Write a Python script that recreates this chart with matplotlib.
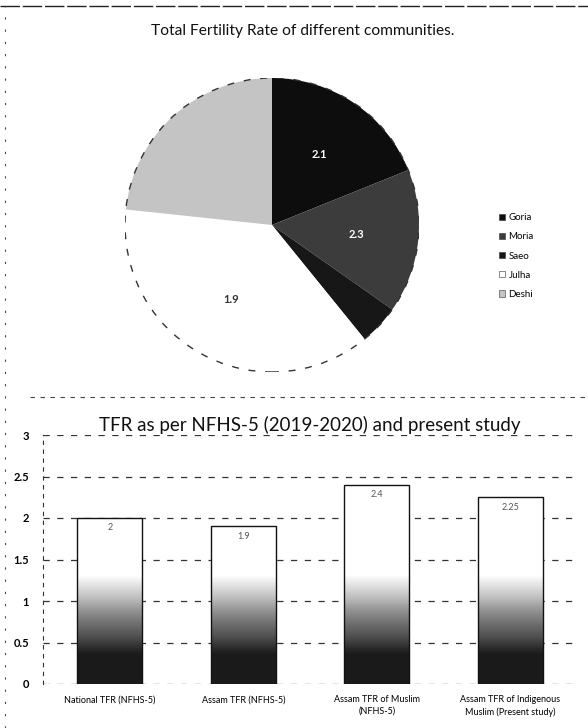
import matplotlib.pyplot as plt
import numpy as np
from matplotlib.lines import Line2D

plt.rcParams['font.family'] = ['Lato', 'DejaVu Sans']

# pie: communities (slice sizes)
communities = ['Goria', 'Moria', 'Saeo', 'Julha', 'Deshi']
tfr_community = [2.1, 1.76, 0.49, 4.17, 2.59]
pie_labels = ['2.1', '2.3', '', '1.9', '']
pie_colors = ['#0d0d0d', '#3c3c3c', '#171717', '#ffffff', '#c4c4c4']

# bars: NFHS-5 vs present study
bar_names = ['National TFR (NFHS-5)', 'Assam TFR (NFHS-5)',
             'Assam TFR of Muslim\n(NFHS-5)', 'Assam TFR of Indigenous\nMuslim (Present study)']
bar_values = [2.0, 1.9, 2.4, 2.25]
yticks = [0, 0.5, 1, 1.5, 2, 2.5, 3]

W, H = 588, 728
fig = plt.figure(figsize=(W / 100, H / 100), dpi=100)
fig.patch.set_facecolor('white')

# frame lines of the scanned page
fig.add_artist(Line2D([0, 1], [1 - 6 / H, 1 - 6 / H], color='#222222', lw=1.0,
                      ls=(0, (14, 2)), transform=fig.transFigure))
fig.add_artist(Line2D([5 / W, 5 / W], [0, 1 - 6 / H], color='#444444', lw=0.8,
                      ls=(0, (2, 9)), transform=fig.transFigure))
fig.add_artist(Line2D([30 / W, 1], [1 - 397 / H, 1 - 397 / H], color='#444444', lw=0.8,
                      ls=(0, (4, 5)), transform=fig.transFigure))

fig.text(303 / W, 1 - 31 / H, 'Total Fertility Rate of different communities.',
         ha='center', va='center', fontsize=11.2, color='#111111')

# ---- pie ----
cx, cy, r = 272, 225, 147
ax1 = fig.add_axes([(cx - r) / W, 1 - (cy + r) / H, 2 * r / W, 2 * r / H])
wedges, _ = ax1.pie(tfr_community, colors=pie_colors, startangle=90, counterclock=False,
                    radius=1, wedgeprops=dict(linewidth=0))
ax1.add_patch(plt.Circle((0, 0), 1, fill=False, ec='#333333', lw=1.0, ls=(0, (5, 7))))
for w, lab, col in zip(wedges, pie_labels, pie_colors):
    if not lab:
        continue
    ang = np.deg2rad((w.theta1 + w.theta2) / 2)
    tc = 'white' if col != '#ffffff' else '#333333'
    ax1.text(0.58 * np.cos(ang), 0.58 * np.sin(ang), lab, ha='center', va='center',
             fontsize=8, fontweight='bold', color=tc)
ax1.set_xlim(-1, 1)
ax1.set_ylim(-1, 1)
ax1.axis('off')
ax1.legend(wedges, communities, loc='center left', bbox_to_anchor=(490 / W, 1 - 256 / H),
           bbox_transform=fig.transFigure, frameon=False, fontsize=7, labelspacing=1.05,
           handlelength=0.6, handleheight=0.6, handletextpad=0.4)
for h in ax1.get_legend().legend_handles:
    h.set_edgecolor('#333333')
    h.set_linewidth(0.4)

# ---- bars ----
ax2 = fig.add_axes([43 / W, 1 - 684 / H, 534 / W, 249 / H])
x = np.arange(len(bar_values))
bars = ax2.bar(x, bar_values, width=0.49, color='none', edgecolor='#111111', lw=1.0, zorder=3)
for b in bars:
    h = b.get_height()
    yy = np.linspace(0, h, 300).reshape(-1, 1)
    dark = np.clip((1.3 - yy) / 0.95, 0, 1) ** 0.7
    im = ax2.imshow(dark, cmap='Greys', vmin=0, vmax=1.1, aspect='auto', zorder=2,
                    origin='lower', extent=[b.get_x(), b.get_x() + b.get_width(), 0, h])
    im.set_clip_path(b)
for xi, v in zip(x, bar_values):
    ax2.text(xi, v - 0.12, f'{v:g}', ha='center', va='center', fontsize=6.5, color='#555555', zorder=4)

ax2.set_xlim(-0.5, len(bar_values) - 0.5)
ax2.set_ylim(0, 3)
ax2.set_yticks(yticks)
ax2.set_yticklabels([f'{t:g}' for t in yticks], fontsize=8, fontweight='bold')
ax2.set_xticks(x)
ax2.set_xticklabels(bar_names, fontsize=6.5, linespacing=1.4)
ax2.tick_params(length=0, pad=10)
ax2.tick_params(axis='x', pad=8)
ax2.grid(axis='y', color='#333333', lw=0.9, ls=(0, (5, 6)), zorder=0)
for s in ['top', 'right', 'bottom']:
    ax2.spines[s].set_visible(False)
ax2.spines['left'].set_linestyle((0, (3, 5)))
ax2.spines['left'].set_color('#333333')
ax2.set_title('TFR as per NFHS-5 (2019-2020) and present study', fontsize=13.5,
              color='#111111', pad=3)

fig.savefig('out.png', dpi=100, facecolor='white')
